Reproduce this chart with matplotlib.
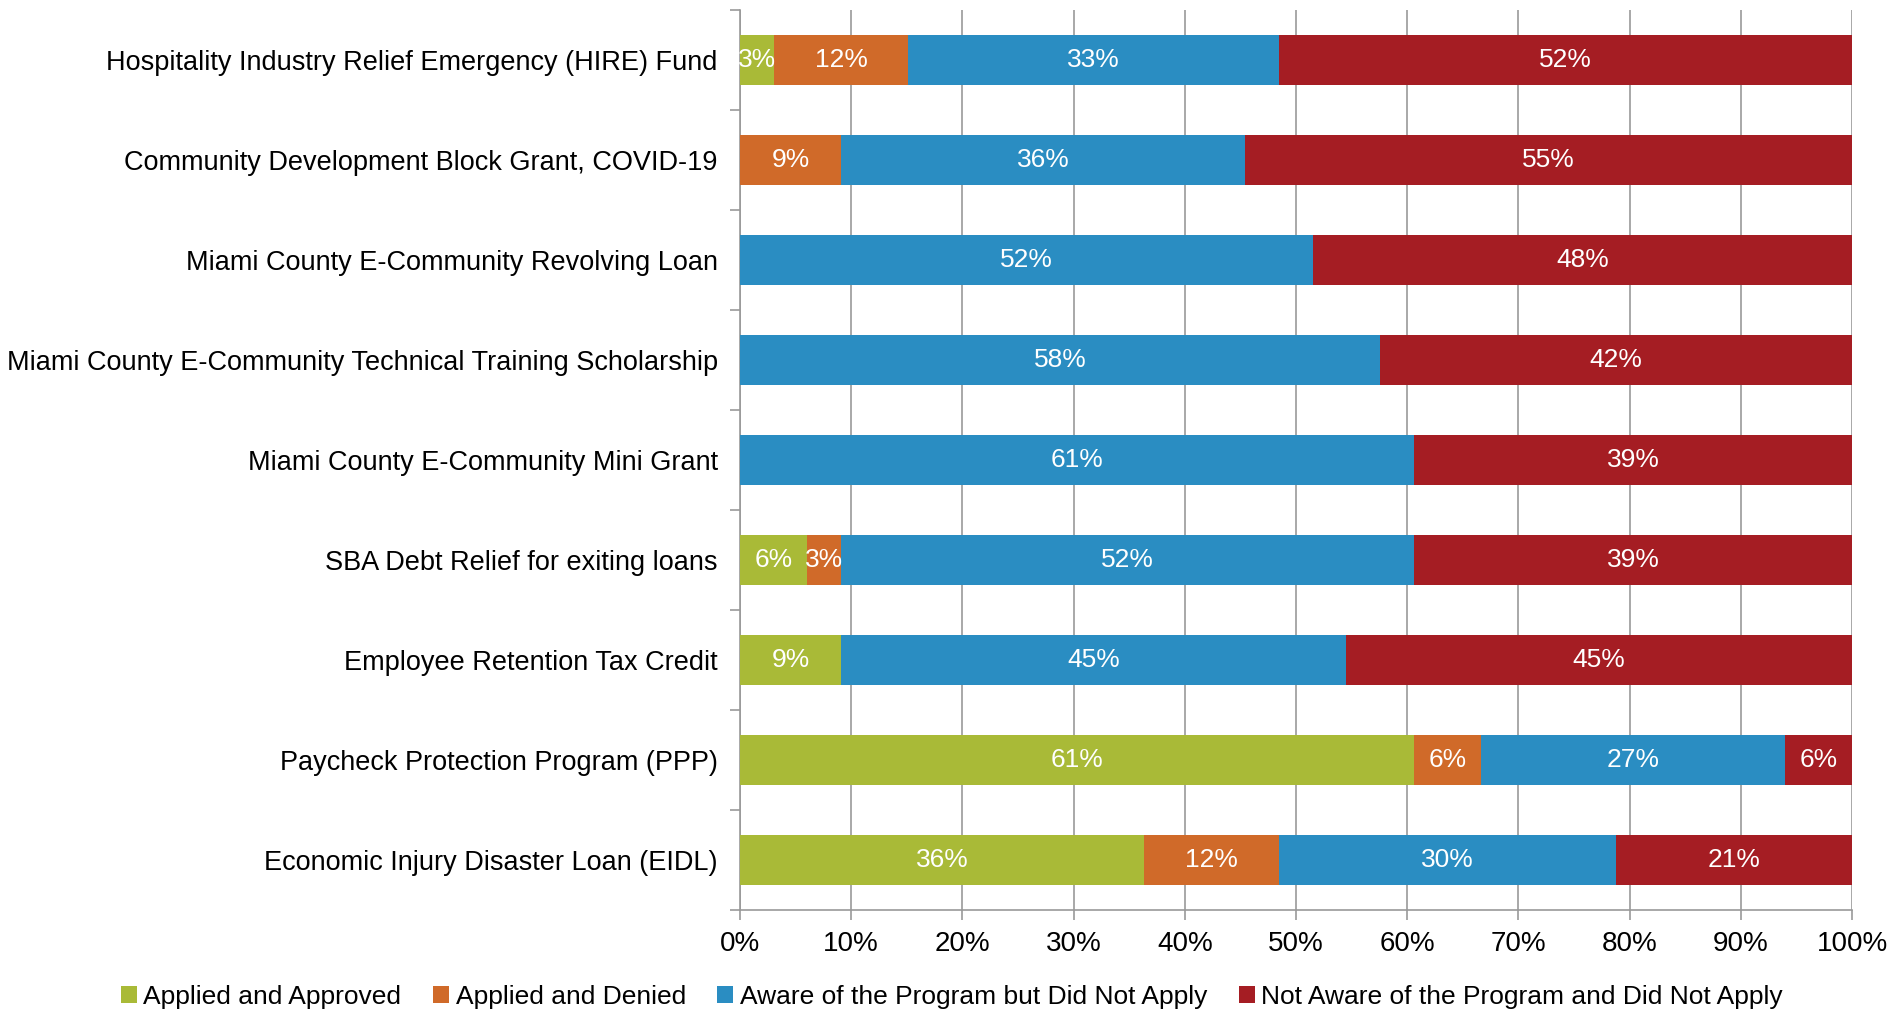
import numpy as np
import matplotlib
matplotlib.use('Agg')
from matplotlib import pyplot as plt

plt.rcParams['font.family'] = ['Liberation Sans', 'DejaVu Sans']

PROGRAMS = ['Hospitality Industry Relief Emergency (HIRE) Fund',
            'Community Development Block Grant, COVID-19',
            'Miami County E-Community Revolving Loan',
            'Miami County E-Community Technical Training Scholarship',
            'Miami County E-Community Mini Grant',
            'SBA Debt Relief for exiting loans',
            'Employee Retention Tax Credit',
            'Paycheck Protection Program (PPP)',
            'Economic Injury Disaster Loan (EIDL)']

SERIES = ['Applied and Approved', 'Applied and Denied',
          'Aware of the Program but Did Not Apply',
          'Not Aware of the Program and Did Not Apply']

# percent of respondents, top row first
approved = [3.03, 0, 0, 0, 0, 6.06, 9.09, 60.61, 36.36]
denied = [12.12, 9.09, 0, 0, 0, 3.03, 0, 6.06, 12.12]
aware = [33.33, 36.36, 51.52, 57.58, 60.61, 51.52, 45.45, 27.27, 30.30]
not_aware = [51.52, 54.55, 48.48, 42.42, 39.39, 39.39, 45.45, 6.06, 21.21]

COLORS = ['#A9BA37', '#D06A29', '#2A8DC2', '#A51D23']

fig = plt.figure(figsize=(19.04, 10.11), dpi=100)
ax = fig.add_axes([740 / 1904, 1 - 910 / 1011, 1112 / 1904, 900 / 1011])

y = np.arange(len(PROGRAMS))
left = np.zeros(len(PROGRAMS))
for name, vals, col in zip(SERIES, [approved, denied, aware, not_aware], COLORS):
    vals = np.array(vals)
    ax.barh(y, vals / 100, left=left / 100, height=0.5, color=col, label=name, zorder=3)
    for yi, v, l in zip(y, vals, left):
        if v > 0:
            ax.text((l + v / 2) / 100, yi, '%d%%' % int(v + 0.5), color='white',
                    ha='center', va='center', fontsize=19, zorder=4)
    left = left + vals

ax.set_xlim(0, 1)
ax.set_ylim(len(PROGRAMS) - 0.5, -0.5)
ax.set_xticks(np.arange(0, 1.01, 0.1))
ax.set_xticklabels(['%d%%' % p for p in range(0, 101, 10)], fontsize=20)
ax.set_yticks(y)
ax.set_yticklabels(PROGRAMS, fontsize=19.5)
ax.set_yticks(np.arange(-0.5, len(PROGRAMS), 1), minor=True)
ax.tick_params(axis='y', which='major', length=0, pad=16)
ax.tick_params(axis='y', which='minor', length=7, color='#999999', width=1.2)
ax.tick_params(axis='x', length=7, color='#999999', width=1.2, pad=8)
ax.grid(axis='x', color='#999999', linewidth=1.2, zorder=0)
for side in ['top', 'right']:
    ax.spines[side].set_visible(False)
for side in ['left', 'bottom']:
    ax.spines[side].set_color('#999999')
    ax.spines[side].set_linewidth(1.2)

fig.legend(loc='center', bbox_to_anchor=(0.5, 1 - 997 / 1011), ncol=4, frameon=False,
           handlelength=0.6, handleheight=0.6, handletextpad=0.25,
           columnspacing=1.2, prop={'size': 19})

fig.savefig('out.png', dpi=100)
